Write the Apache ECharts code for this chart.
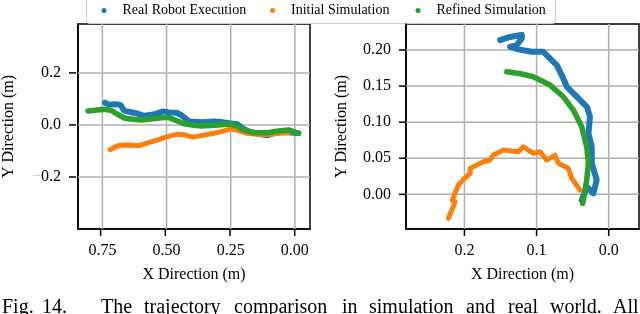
<!DOCTYPE html>
<html>
<head>
<meta charset="utf-8">
<script src="https://cdn.jsdelivr.net/npm/echarts@6/dist/echarts.min.js"></script>
<style>
html,body{margin:0;padding:0;background:#fff;}
#chart{width:640px;height:314px;}
</style>
</head>
<body>
<div id="chart"></div>
<script>
const seriesNames = ['Real Robot Execution', 'Initial Simulation', 'Refined Simulation'];
const seriesColors = ['#1f77b4', '#ff7f0e', '#2ca02c'];

// Left panel [x, y] in metres
const leftReal = [[0.74,0.086],[0.725,0.078],[0.70,0.080],[0.68,0.077],[0.665,0.055],[0.62,0.045],[0.585,0.035],[0.55,0.040],[0.514,0.052],[0.49,0.048],[0.462,0.047],[0.443,0.038],[0.43,0.028],[0.411,0.013],[0.36,0.010],[0.315,0.013],[0.295,0.012],[0.25,0.006],[0.224,0.003],[0.205,-0.012],[0.18,-0.026],[0.14,-0.034],[0.108,-0.040],[0.08,-0.030],[0.057,-0.026],[0.03,-0.028],[0.0,-0.030],[-0.014,-0.032]];
const leftInitial = [[0.72,-0.095],[0.70,-0.085],[0.68,-0.078],[0.649,-0.077],[0.61,-0.080],[0.57,-0.068],[0.533,-0.057],[0.50,-0.046],[0.462,-0.036],[0.43,-0.038],[0.398,-0.047],[0.36,-0.040],[0.315,-0.032],[0.28,-0.024],[0.25,-0.015],[0.22,-0.022],[0.185,-0.032],[0.134,-0.038],[0.083,-0.035],[0.05,-0.031],[0.02,-0.028]];
const leftRefined = [[0.806,0.054],[0.77,0.057],[0.74,0.060],[0.714,0.055],[0.69,0.040],[0.662,0.026],[0.63,0.022],[0.598,0.019],[0.56,0.023],[0.52,0.028],[0.495,0.030],[0.465,0.018],[0.43,0.004],[0.40,0.000],[0.366,-0.004],[0.33,-0.002],[0.30,0.000],[0.25,0.004],[0.225,-0.005],[0.205,-0.017],[0.16,-0.030],[0.108,-0.030],[0.057,-0.022],[0.025,-0.019],[0.005,-0.026],[-0.014,-0.032]];

// Right panel [x, y] in metres
const rightReal = [[0.1506,0.2137],[0.141,0.2170],[0.1298,0.2193],[0.1205,0.2210],[0.1205,0.2161],[0.1274,0.2068],[0.1367,0.2044],[0.1252,0.2008],[0.1066,0.1975],[0.0906,0.1975],[0.0836,0.1906],[0.072,0.179],[0.065,0.165],[0.058,0.149],[0.044,0.135],[0.030,0.121],[0.026,0.1075],[0.028,0.0845],[0.0235,0.066],[0.0235,0.043],[0.0166,0.0198],[0.0213,0.0014],[0.030,0.0105],[0.0374,-0.0079]];
const rightInitial = [[0.2222,-0.0332],[0.2160,-0.018],[0.2129,-0.0102],[0.2170,-0.008],[0.2083,0.0129],[0.2020,0.020],[0.1921,0.029],[0.1921,0.036],[0.1737,0.0452],[0.1650,0.047],[0.1598,0.0544],[0.146,0.0614],[0.1350,0.0600],[0.1252,0.059],[0.1183,0.066],[0.1044,0.0568],[0.0952,0.059],[0.0859,0.0475],[0.0744,0.0544],[0.0698,0.043],[0.056,0.036],[0.0512,0.0222],[0.0398,0.006]];
const rightRefined = [[0.1413,0.1698],[0.122,0.167],[0.1044,0.163],[0.0813,0.1514],[0.0629,0.1352],[0.049,0.1168],[0.0374,0.0936],[0.0305,0.066],[0.0282,0.043],[0.0305,0.0198],[0.036,-0.0125]];

// Ticks
const leftXTicks = [0, 0.25, 0.5, 0.75];
const leftYTicks = [-0.2, 0, 0.2];
const rightXTicks = [0, 0.1, 0.2];
const rightYTicks = [0, 0.05, 0.1, 0.15, 0.2];
const leftXRange = [-0.059, 0.845];
const leftYRange = [-0.4, 0.388];
const rightXRange = [-0.042, 0.281];
const rightYRange = [-0.048, 0.236];

const xName = 'X Direction (m)';
const yName = 'Y Direction (m)';
const captionWords = ['Fig.', '14.', 'The', 'trajectory', 'comparison', 'in', 'simulation', 'and', 'real', 'world.', 'All'];
const captionX = [2, 42, 101, 144, 234, 342, 369, 466, 508, 550, 613];
const legendLeft = [101.5, 270, 415.5];

const FONT = '"Liberation Serif", "DejaVu Serif", serif';
const TICK_LEN = 7;
const GRIDS = [
  { left: 76, top: 24, width: 234, height: 205 },
  { left: 406, top: 24, width: 233, height: 205 }
];

function fmt(dec) {
  return function (v) {
    const s = Math.abs(v).toFixed(dec);
    return v < 0 ? '{m|\u2212}{n|' + s + '}' : '{n|' + s + '}';
  };
}
const richLab = {
  m: { color: '#c8c8c8', fontFamily: FONT, fontSize: 16 },
  n: { color: '#000', fontFamily: FONT, fontSize: 16 }
};
const tickStyle = { color: '#000', width: 1.5 };

function xAxis(gi, range, ticks, dec) {
  return {
    type: 'value', gridIndex: gi, inverse: true, min: range[0], max: range[1],
    name: xName, nameLocation: 'middle', nameGap: 38,
    nameTextStyle: { fontFamily: FONT, fontSize: 16, color: '#000' },
    axisLine: { show: true, onZero: false, lineStyle: tickStyle },
    axisTick: { show: false },
    axisLabel: { margin: 14, customValues: ticks, formatter: fmt(dec), rich: richLab },
    splitLine: { show: false }
  };
}
function yAxis(gi, range, ticks, dec, margin, gap) {
  return {
    type: 'value', gridIndex: gi, min: range[0], max: range[1],
    name: yName, nameLocation: 'middle', nameGap: gap,
    nameTextStyle: { fontFamily: FONT, fontSize: 16, color: '#000' },
    axisLine: { show: true, onZero: false, lineStyle: tickStyle },
    axisTick: { show: false },
    axisLabel: { margin: margin, customValues: ticks, formatter: fmt(dec), rich: richLab },
    splitLine: { show: false }
  };
}

function seg(g, data) {
  return { type: 'line', xAxisIndex: g, yAxisIndex: g, data: data,
    showSymbol: false, silent: true, z: 1, animation: false,
    lineStyle: { color: '#b0b0b0', width: 1.5 }, itemStyle: { color: '#b0b0b0' } };
}
// grid lines drawn through the axes' scales
function gridSeries(g, xt, yt, xr, yr) {
  return xt.map(function (v) { return seg(g, [[v, yr[0]], [v, yr[1]]]); })
    .concat(yt.map(function (v) { return seg(g, [[xr[0], v], [xr[1], v]]); }));
}

const panels = [leftReal, leftInitial, leftRefined, rightReal, rightInitial, rightRefined];
const widths = [6, 5, 5.5];
const series = gridSeries(0, leftXTicks, leftYTicks, leftXRange, leftYRange)
  .concat(gridSeries(1, rightXTicks, rightYTicks, rightXRange, rightYRange))
  .concat(panels.map(function (d, i) {
    const k = i % 3;
    const g = Math.floor(i / 3);
    return {
      name: seriesNames[k], type: 'line', xAxisIndex: g, yAxisIndex: g,
      data: d, showSymbol: false, symbol: 'circle', smooth: false,
      color: seriesColors[k],
      lineStyle: { color: seriesColors[k], width: widths[k], cap: 'round', join: 'round' },
      z: 3 + k, animation: false, silent: true
    };
  }));

// Outward tick marks: axis decoration mapped from tick values onto the grid box
function tickMarks(g, xt, yt, xr, yr) {
  const b = GRIDS[g];
  const out = [];
  xt.forEach(function (v) {
    const px = b.left + (xr[1] - v) / (xr[1] - xr[0]) * b.width; // inverted x axis
    out.push({ type: 'rect', silent: true, z: 50, left: px - 0.75, top: b.top + b.height,
      shape: { width: 1.5, height: TICK_LEN }, style: { fill: '#000' } });
  });
  yt.forEach(function (v) {
    const py = b.top + (yr[1] - v) / (yr[1] - yr[0]) * b.height;
    out.push({ type: 'rect', silent: true, z: 50, left: b.left - TICK_LEN, top: py - 0.75,
      shape: { width: TICK_LEN, height: 1.5 }, style: { fill: '#000' } });
  });
  return out;
}

const graphics = [{
  type: 'rect', left: 86, top: -4, z: 0, silent: true,
  shape: { width: 469, height: 27, r: 3 },
  style: { fill: '#fff', stroke: '#cccccc', lineWidth: 1 }
}].concat(captionWords.map(function (w, i) {
  return {
    type: 'text', left: captionX[i], top: 298,
    style: { text: w, fontFamily: FONT, fontSize: 20, fill: '#000' }
  };
})).concat(tickMarks(0, leftXTicks, leftYTicks, leftXRange, leftYRange))
  .concat(tickMarks(1, rightXTicks, rightYTicks, rightXRange, rightYRange));

const legends = seriesNames.map(function (n, i) {
  return {
    data: [n], icon: 'circle', itemWidth: 5, itemHeight: 5,
    left: legendLeft[i], top: 3.5, padding: 0, z: 10,
    textStyle: { fontFamily: FONT, fontSize: 14, color: '#000', padding: [0, 0, 0, 11] }
  };
});

const chart = echarts.init(document.getElementById('chart'), null, { renderer: 'canvas' });
chart.setOption({
  animation: false,
  backgroundColor: '#fff',
  legend: legends,
  grid: GRIDS.map(function (b) {
    return { left: b.left, top: b.top, width: b.width, height: b.height, show: true,
      borderColor: '#000', borderWidth: 1.5, backgroundColor: 'transparent' };
  }),
  xAxis: [xAxis(0, leftXRange, leftXTicks, 2), xAxis(1, rightXRange, rightXTicks, 1)],
  yAxis: [yAxis(0, leftYRange, leftYTicks, 1, 17, 61), yAxis(1, rightYRange, rightYTicks, 2, 15, 56)],
  series: series,
  graphic: graphics
});
</script>
</body>
</html>
